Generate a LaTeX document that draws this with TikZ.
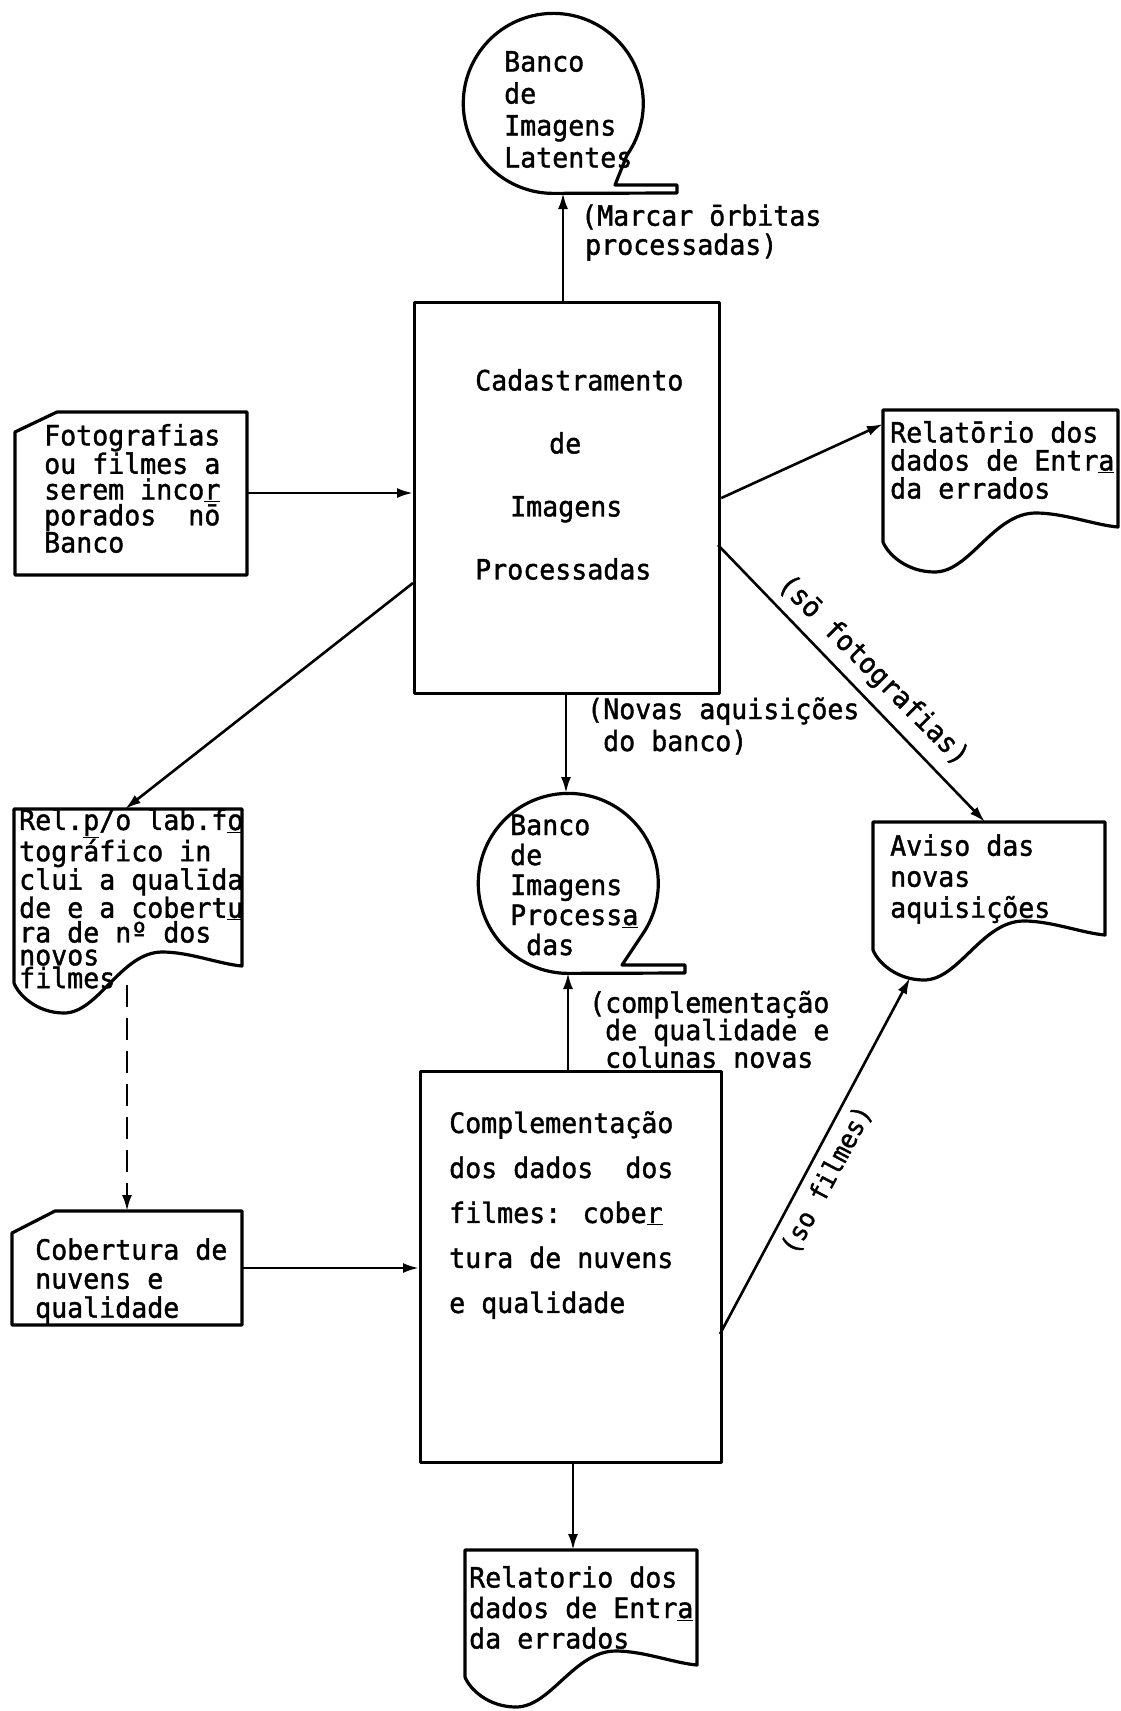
\documentclass[tikz,border=0pt]{standalone}
\usepackage{fontspec}
\newfontfamily\mono[FakeStretch=0.95,FakeBold=1.4]{DejaVu Sans Mono}
\usetikzlibrary{arrows.meta,calc}
\newcommand\mfs[1]{\mono\fontsize{28}{#1}\selectfont}
% document symbol: x1, top, x2, left-bottom y, right-bottom y
\newcommand\docshape[5]{%
  \pgfmathsetmacro\dsW{#3-#1}%
  \pgfmathsetmacro\dsXT{#1+0.22*\dsW}%
  \pgfmathsetmacro\dsYT{#4+30}%
  \pgfmathsetmacro\dsXC{#1+0.65*\dsW}%
  \pgfmathsetmacro\dsYC{#5-14}%
  \draw[shp] (#1,#2) -- (#3,#2) -- (#3,#5)
    .. controls ({#3-0.1*\dsW},{#5-2}) and ({\dsXC+0.12*\dsW},\dsYC) .. (\dsXC,\dsYC)
    .. controls ({\dsXC-0.18*\dsW},\dsYC) and ({\dsXT+0.15*\dsW},\dsYT) .. (\dsXT,\dsYT)
    .. controls ({\dsXT-0.12*\dsW},\dsYT) and ({#1+0.02*\dsW},{#4+12}) .. (#1,#4) -- cycle;}
\begin{document}
\begin{tikzpicture}[x=1pt,y=-1pt,
  shp/.style={line width=3.2pt, line join=round},
  arr/.style={line width=2.6pt, -{Latex[length=16pt,width=10pt]}},
  txt/.style={inner sep=0pt, align=left, anchor=west}]
\useasboundingbox (0,0) rectangle (1120,1711);

% ---- process boxes
\node[draw, shp, minimum width=305pt, minimum height=391pt, inner sep=0pt, anchor=north west] (cad) at (413,301) {};
\node[draw, shp, minimum width=301pt, minimum height=391pt, inner sep=0pt, anchor=north west] (comp) at (419,1070) {};

% ---- tape / storage symbols
\draw[shp] (615,185) -- (627,155) arc[start angle=35, end angle=-270, radius=90] -- (677,193) -- (677,185) -- cycle;
\draw[shp] (622,965) -- (642,935) arc[start angle=35, end angle=-270, radius=90] -- (685,973) -- (685,965) -- cycle;

% ---- input cards
\draw[shp] (57,412) -- (247,412) -- (247,575) -- (15,575) -- (15,432) -- cycle;
\draw[shp] (55,1211) -- (242,1211) -- (242,1325) -- (12,1325) -- (12,1233) -- cycle;

% ---- documents
\docshape{883}{410}{1118}{542}{527}
\docshape{873}{822}{1105}{950}{935}
\docshape{14}{809}{242}{983}{966}
\docshape{465}{1550}{697}{1677}{1665}

% ---- connection points
\coordinate (latB) at (563,193);
\coordinate (procTop) at (566,793);
\coordinate (procBot) at (568,973);
\coordinate (fotoE) at (247,493);
\coordinate (relEin) at (883,424);
\coordinate (cadL) at (413,583);
\coordinate (relPin) at (125,809);
\coordinate (cadR) at (718,545);
\coordinate (avIn) at (985,822);
\coordinate (cobE) at (242,1268);
\coordinate (relPout) at (127,985);
\coordinate (cobIn) at (127,1211);
\coordinate (relBin) at (573,1550);
\coordinate (compR) at (720,1334);
\coordinate (avBot) at (910,978);

% ---- connectors
\draw[arr] (latB |- cad.north) -- (latB);
\draw[arr] (fotoE) -- (fotoE -| cad.west);
\draw[arr] (cad.east) -- (relEin);
\draw[arr] (cadL) -- (relPin);
\draw[arr] (cadR) -- (avIn);
\draw[arr] (procTop |- cad.south) -- (procTop);
\draw[arr] (procBot |- comp.north) -- (procBot);
\draw[arr] (cobE) -- (cobE -| comp.west);
\draw[arr, dash pattern=on 22pt off 11pt] (relPout) -- (cobIn);
\draw[arr] (relBin |- comp.south) -- (relBin);
\draw[arr] (compR) -- (avBot);

% ---- texts
\node[txt, font=\mfs{32}] (latT) at (504,109.5) {Banco\\de\\Imagens\\Latentes};
\node[txt, font=\mfs{29}] (marcT) at (581,232.5) {(Marcar ōrbitas\\\hspace*{4pt}processadas)};
\node[txt, font=\mfs{63}] (cadT) at (475,474.5) {Cadastramento\\\hspace*{74pt}de\\\hspace*{35pt}Imagens\\Processadas};
\node[txt, font=\mfs{25.75}] (fotoT) at (44,488.5) {Fotografias\\ou filmes a\\serem inco\underline{r}\\porados\ \ nō\\Banco};
\node[txt, font=\mfs{28}] (relET) at (890,460) {Relatōrio dos\\dados de Entr\underline{a}\\da errados};
\node[txt, font=\mfs{22.8}] (relPT) at (19,898.5) {Rel.\underline{p}/o lab.f\underline{o}\\tográfico in\\clui a qualīda\\de e a cobert\underline{u}\\ra de nº dos\\novos\\filmes};
\node[txt, font=\mfs{30}] (procTx) at (510,885) {Banco\\de\\Imagens\\Process\underline{a}\\\hspace*{16pt}das};
\node[txt, font=\mfs{32}] (novT) at (587,726) {(Novas aquisições\\\hspace*{16pt}do banco)};
\node[txt, font=\mfs{27.5}] (complT) at (589,1029.5) {(complementação\\\hspace*{16pt}de qualidade e\\\hspace*{16pt}colunas novas};
\node[txt, font=\mfs{45}] (compT) at (449,1215) {Complementação\\dos dados\ \ dos\\filmes: cobe\underline{r}\\tura de nuvens\\e qualidade};
\node[txt, font=\mfs{29}] (cobT) at (35,1281) {Cobertura de\\nuvens e\\qualidade};
\node[txt, font=\mfs{31}] (avT) at (890,879) {Aviso das\\novas\\aquisições};
\node[txt, font=\mfs{30.5}] (relBT) at (469,1607.5) {Relatorio dos\\dados de Entr\underline{a}\\da errados};
\node[font=\mfs{30}, inner sep=0pt, rotate=-45] (soF) at (873,671) {(sō fotografias)};
\node[font=\mono\fontsize{26}{30}\selectfont, inner sep=0pt, rotate=62] (soFi) at (827,1180) {(so filmes)};
\end{tikzpicture}
\end{document}
